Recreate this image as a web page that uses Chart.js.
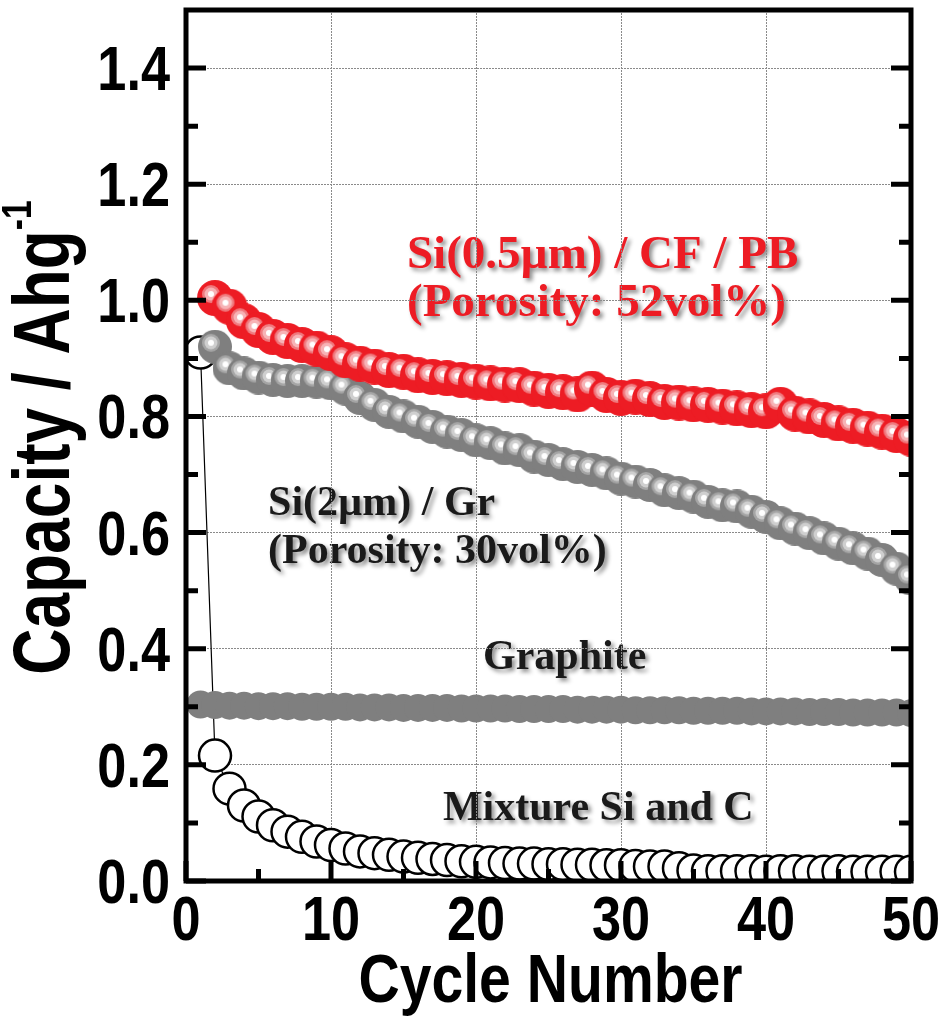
<!DOCTYPE html>
<html lang="en">
<head>
<meta charset="UTF-8">
<title>Capacity vs Cycle Number</title>
<style>
  html, body { margin: 0; padding: 0; background: #fff; }
  #chart { display: block; }
</style>
<script src="https://cdn.jsdelivr.net/npm/chart.js"></script>
</head>
<body>
<canvas id="chart" width="952" height="1017"></canvas>
<script>
// x values
const cyclesAll = [1, 2, 3, 4, 5, 6, 7, 8, 9, 10, 11, 12, 13, 14, 15, 16, 17, 18, 19, 20,
  21, 22, 23, 24, 25, 26, 27, 28, 29, 30, 31, 32, 33, 34, 35, 36, 37, 38, 39, 40,
  41, 42, 43, 44, 45, 46, 47, 48, 49, 50];
const cyclesFrom2 = [2, 3, 4, 5, 6, 7, 8, 9, 10, 11, 12, 13, 14, 15, 16, 17, 18, 19, 20,
  21, 22, 23, 24, 25, 26, 27, 28, 29, 30, 31, 32, 33, 34, 35, 36, 37, 38, 39, 40,
  41, 42, 43, 44, 45, 46, 47, 48, 49, 50];

// capacities (Ah/g)
const siCfPb = [1.004, 0.989, 0.964, 0.949, 0.937, 0.930, 0.923, 0.917, 0.909,
  0.897, 0.891, 0.886, 0.880, 0.877, 0.871, 0.868, 0.866, 0.863, 0.860,
  0.857, 0.855, 0.854, 0.848, 0.844, 0.842, 0.838, 0.848, 0.837, 0.832,
  0.834, 0.830, 0.825, 0.824, 0.821, 0.820, 0.817, 0.814, 0.811, 0.809,
  0.820, 0.805, 0.800, 0.794, 0.788, 0.784, 0.779, 0.774, 0.768, 0.762];
const siGr = [0.920, 0.883, 0.874, 0.867, 0.863, 0.861, 0.861, 0.860, 0.857,
  0.848, 0.832, 0.820, 0.808, 0.800, 0.791, 0.782, 0.774, 0.768, 0.759,
  0.754, 0.745, 0.742, 0.731, 0.725, 0.718, 0.713, 0.708, 0.702, 0.693,
  0.688, 0.682, 0.673, 0.668, 0.662, 0.653, 0.647, 0.645, 0.636, 0.627,
  0.616, 0.607, 0.599, 0.590, 0.581, 0.573, 0.564, 0.553, 0.538, 0.521];
const graphite = [0.304, 0.303, 0.302, 0.302, 0.301, 0.301, 0.301, 0.300, 0.300, 0.300,
  0.300, 0.299, 0.299, 0.299, 0.298, 0.298, 0.298, 0.298, 0.297, 0.297,
  0.297, 0.297, 0.296, 0.296, 0.296, 0.296, 0.295, 0.295, 0.295, 0.295,
  0.294, 0.294, 0.294, 0.294, 0.293, 0.293, 0.293, 0.293, 0.292, 0.292,
  0.292, 0.292, 0.291, 0.291, 0.291, 0.290, 0.290, 0.290, 0.290, 0.289];
const mixture = [0.910, 0.216, 0.159, 0.130, 0.111, 0.096, 0.085, 0.076, 0.068, 0.062,
  0.056, 0.051, 0.048, 0.045, 0.042, 0.040, 0.038, 0.036, 0.034, 0.033,
  0.032, 0.031, 0.030, 0.030, 0.029, 0.029, 0.028, 0.028, 0.027, 0.027,
  0.026, 0.025, 0.025, 0.022, 0.018, 0.017, 0.017, 0.017, 0.017, 0.016,
  0.017, 0.017, 0.016, 0.016, 0.017, 0.016, 0.016, 0.016, 0.016, 0.016];

// axes
const xTicks = [0, 10, 20, 30, 40, 50];
const xMinor = [5, 15, 25, 35, 45];
const yTicks = [0, 0.2, 0.4, 0.6, 0.8, 1.0, 1.2, 1.4];
const yMinor = [0.1, 0.3, 0.5, 0.7, 0.9, 1.1, 1.3];
const xTitle = 'Cycle Number';
const yTitle = 'Capacity / Ahg';
const yTitleSup = '-1';

// text labels in the plot (x, y = baseline of first line, in data units)
const labels = [
  { lines: ['Si(0.5\u00b5m) / CF / PB', '(Porosity: 52vol%)'], x: 15.24, y: 1.056, color: '#ED1C24', size: 47, gap: 48 },
  { lines: ['Si(2\u00b5m) / Gr', '(Porosity: 30vol%)'], x: 5.66, y: 0.630, color: '#1a1a1a', size: 42, gap: 48 },
  { lines: ['Graphite'], x: 20.48, y: 0.365, color: '#1a1a1a', size: 42, gap: 0 },
  { lines: ['Mixture Si and C'], x: 17.72, y: 0.105, color: '#1a1a1a', size: 42, gap: 0 }
];

const sans = "'Liberation Sans', Arial, sans-serif";
const serif = "'Liberation Serif', 'Times New Roman', serif";

// shaded ball markers
function makeBall(r, base, rings) {
  const c = document.createElement('canvas');
  c.width = c.height = 2 * r;
  const g = c.getContext('2d');
  g.fillStyle = base;
  g.beginPath(); g.arc(r, r, r, 0, Math.PI * 2); g.fill();
  rings.forEach(([rr, col]) => {
    g.fillStyle = col;
    g.beginPath(); g.arc(r - 4, r - 4, rr, 0, Math.PI * 2); g.fill();
  });
  return c;
}
const redBall = makeBall(18, '#ED1C24', [[9, '#F07A7F'], [6.5, '#F7B3B6'], [3, '#FFFFFF']]);
const grayBall = makeBall(17, '#7F7F7F', [[9, '#A6A6A6'], [6.5, '#CFCFCF'], [3, '#FFFFFF']]);

const toXY = (xs, ys) => xs.map((x, i) => ({ x: x, y: ys[i] }));

// narrow bold text: regular bold font squeezed horizontally
function narrowText(ctx, text, x, y, size, squeeze, align, baseline, rot) {
  ctx.save();
  ctx.translate(x, y);
  if (rot) ctx.rotate(rot);
  ctx.scale(squeeze, 1);
  ctx.font = 'bold ' + size + 'px ' + sans;
  ctx.textAlign = align;
  ctx.textBaseline = baseline;
  ctx.fillStyle = '#000';
  ctx.fillText(text, 0, 0);
  ctx.restore();
}

// text annotations, drawn under the grid
const textLabels = {
  id: 'textLabels',
  beforeDraw(chart) {
    const { ctx, scales: { x, y } } = chart;
    ctx.save();
    ctx.textAlign = 'left';
    ctx.textBaseline = 'alphabetic';
    ctx.shadowColor = 'rgba(0,0,0,0.45)';
    ctx.shadowOffsetX = 3;
    ctx.shadowOffsetY = 3;
    ctx.shadowBlur = 4;
    labels.forEach(l => {
      ctx.font = 'bold ' + l.size + 'px ' + serif;
      ctx.fillStyle = l.color;
      const px = x.getPixelForValue(l.x);
      const py = y.getPixelForValue(l.y);
      l.lines.forEach((t, i) => ctx.fillText(t, px, py + i * l.gap));
    });
    ctx.restore();
  }
};

// box frame with inward ticks, tick labels and titles
const frameTicks = {
  id: 'frameTicks',
  afterDatasetsDraw(chart) {
    const { ctx, chartArea: a, scales: { x, y } } = chart;
    ctx.save();
    ctx.strokeStyle = '#000';
    ctx.lineCap = 'butt';
    ctx.lineWidth = 5;
    ctx.beginPath();
    yTicks.concat(yMinor).forEach(v => {
      const p = y.getPixelForValue(v);
      const len = yTicks.includes(v) ? 20 : 12;
      ctx.moveTo(a.left, p); ctx.lineTo(a.left + len, p);
      ctx.moveTo(a.right, p); ctx.lineTo(a.right - len, p);
    });
    xTicks.concat(xMinor).forEach(v => {
      const p = x.getPixelForValue(v);
      const len = xTicks.includes(v) ? 20 : 12;
      ctx.moveTo(p, a.bottom); ctx.lineTo(p, a.bottom - len);
    });
    ctx.stroke();
    ctx.strokeRect(a.left, a.top, a.right - a.left, a.bottom - a.top);
    ctx.restore();
  },
  afterDraw(chart) {
    const { ctx, chartArea: a, scales: { x, y } } = chart;
    // tick labels
    yTicks.forEach(v => {
      narrowText(ctx, v.toFixed(1), a.left - 16, y.getPixelForValue(v) + 22, 63, 0.83, 'right', 'alphabetic');
    });
    xTicks.forEach(v => {
      narrowText(ctx, String(v), x.getPixelForValue(v), a.bottom + 59, 63, 0.83, 'center', 'alphabetic');
    });
    // x title
    narrowText(ctx, xTitle, (a.left + a.right) / 2 + 2, a.bottom + 121, 68, 0.84, 'center', 'alphabetic');
    // y title with superscript
    ctx.save();
    ctx.font = 'bold 80px ' + sans;
    const w1 = ctx.measureText(yTitle).width * 0.8;
    ctx.font = 'bold 42px ' + sans;
    const w2 = ctx.measureText(yTitleSup).width * 0.8;
    ctx.restore();
    const cy = (a.top + a.bottom) / 2 - 8;
    const start = cy + (w1 + w2) / 2;
    ctx.save();
    ctx.translate(69, start);
    ctx.rotate(-Math.PI / 2);
    narrowText(ctx, yTitle, 0, 0, 80, 0.8, 'left', 'alphabetic');
    narrowText(ctx, yTitleSup, w1, -38, 42, 0.8, 'left', 'alphabetic');
    ctx.restore();
  }
};

new Chart(document.getElementById('chart'), {
  type: 'scatter',
  data: {
    datasets: [
      {
        label: 'Si(0.5\u00b5m) / CF / PB',
        data: toXY(cyclesFrom2, siCfPb),
        pointStyle: redBall,
        pointRadius: 18,
        showLine: false,
        clip: 0
      },
      {
        label: 'Si(2\u00b5m) / Gr',
        data: toXY(cyclesFrom2, siGr),
        pointStyle: grayBall,
        pointRadius: 17,
        showLine: false,
        clip: 0
      },
      {
        label: 'Graphite',
        data: toXY(cyclesAll, graphite),
        pointRadius: 14,
        pointBackgroundColor: '#7F7F7F',
        pointBorderWidth: 0,
        showLine: false,
        clip: 0
      },
      {
        label: 'Mixture Si and C',
        data: toXY(cyclesAll, mixture),
        pointRadius: 16,
        pointBackgroundColor: '#FFFFFF',
        pointBorderColor: '#000000',
        pointBorderWidth: 2.5,
        showLine: true,
        borderColor: '#000000',
        borderWidth: 1.2,
        clip: 0
      }
    ]
  },
  options: {
    responsive: false,
    animation: false,
    devicePixelRatio: 1,
    layout: { autoPadding: false, padding: { top: 10, right: 41, left: 0, bottom: 0 } },
    plugins: {
      legend: { display: false },
      tooltip: { enabled: false }
    },
    scales: {
      x: {
        type: 'linear',
        min: 0,
        max: 50,
        afterBuildTicks: s => { s.ticks = xTicks.map(v => ({ value: v })); },
        afterFit: s => { s.height = 136; s.paddingLeft = 0; s.paddingRight = 0; },
        grid: { color: '#8a8a8a', lineWidth: 1, drawTicks: false },
        border: { display: false, dash: [2, 1] },
        ticks: { display: false }
      },
      y: {
        type: 'linear',
        min: 0,
        max: 1.5,
        afterBuildTicks: s => { s.ticks = yTicks.map(v => ({ value: v })); },
        afterFit: s => { s.width = 186; s.paddingTop = 0; s.paddingBottom = 0; },
        grid: { color: '#8a8a8a', lineWidth: 1, drawTicks: false },
        border: { display: false, dash: [2, 1] },
        ticks: { display: false }
      }
    }
  },
  plugins: [textLabels, frameTicks]
});
</script>
</body>
</html>
